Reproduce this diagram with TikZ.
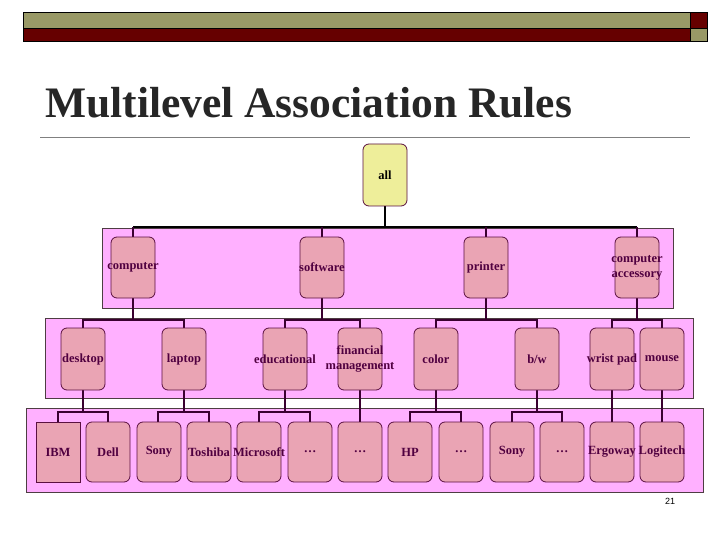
\documentclass[tikz,border=0pt]{standalone}
\usepackage{fontspec}
\setmainfont{Liberation Serif}
\newfontfamily\sansf{Liberation Sans}
\begin{document}
\begin{tikzpicture}[x=1pt,y=-1pt,
  band/.style={draw=black!80!magenta,fill=bandpink,line width=0.8pt},
  box/.style={draw=boxline,fill=boxpink,rounded corners=6pt,line width=0.8pt},
  lbl/.style={text=txtc,font=\fontsize{12.5}{15}\selectfont\bfseries,align=center,inner sep=0pt},
  conn/.style={draw=connc,line width=1.6pt}]
\definecolor{bandpink}{HTML}{FFB0FF}
\definecolor{boxpink}{HTML}{EAA4B4}
\definecolor{boxline}{HTML}{5A1040}
\definecolor{txtc}{HTML}{500040}
\definecolor{connc}{HTML}{3A0030}
\definecolor{olive}{HTML}{999966}
\definecolor{maroon}{HTML}{660000}
\definecolor{allyel}{HTML}{EEEE9A}
\useasboundingbox (0,0) rectangle (720,540);
\fill[white] (0,0) rectangle (720,540);
% top bar
\filldraw[fill=olive,draw=black] (23,12) rectangle (690,28);
\filldraw[fill=maroon,draw=black] (23,28) rectangle (690,41);
\filldraw[fill=maroon,draw=black] (690,12) rectangle (707,28);
\filldraw[fill=olive,draw=black] (690,28) rectangle (707,41);
\node[anchor=base west,inner sep=0pt,text=black!85,font=\fontsize{43.5}{44}\selectfont\bfseries] (title) at (45,118) {Multilevel Association Rules};
\draw[gray,line width=0.6pt] (40,137) -- (690,137);
% bands
\draw[band] (102,228) rectangle (673,308);
\draw[band] (45,318) rectangle (693,398);
\draw[band] (26,408) rectangle (703,492);
\newcommand{\rbox}[6]{\draw[box,#6] (#2,#3) rectangle (#4,#5); \coordinate (#1t) at ({(#2+#4)/2},#3); \coordinate (#1b) at ({(#2+#4)/2},#5); \coordinate (#1) at ({(#2+#4)/2},{(#3+#5)/2});}
% connectors
\draw[black,line width=2.2pt] (133,227) -- (637,227);
\draw[black,line width=1.8pt] (385,206) -- (385,227);
\foreach \x in {133,322,486,637} \draw[conn] (\x,227) -- (\x,237);
\foreach \x/\a/\b in {133/83/184,322/285/360,486/436/537,637/612/662}{
  \draw[conn] (\x,298) -- (\x,320);
  \draw[conn] (\a,328) |- (\b,320) -- (\b,328);}
\foreach \x/\a/\b in {83/58/108,184/158/209,285/259/310,436/410/461,537/512/562}{
  \draw[conn] (\x,390) -- (\x,412);
  \draw[conn] (\a,422) |- (\b,412) -- (\b,422);}
\foreach \x in {360,612,662} \draw[conn] (\x,390) -- (\x,422);
% boxes
\rbox{all}{363}{144}{407}{206}{fill=allyel}
\node[lbl,text=black] (tall) at (all) {all};
\rbox{comp}{111}{237}{155}{298}{}
\rbox{soft}{300}{237}{344}{298}{}
\rbox{prin}{464}{237}{508}{298}{}
\rbox{acc}{615}{237}{659}{298}{}
\node[lbl] (tcomp) at (comp) {computer};
\node[lbl] (tsoft) at (soft) {software};
\node[lbl] (tprin) at (prin) {printer};
\node[lbl] (tacc) at (acc) {computer\\accessory};
\rbox{desk}{61}{328}{105}{390}{}
\rbox{lap}{162}{328}{206}{390}{}
\rbox{edu}{263}{328}{307}{390}{}
\rbox{fin}{338}{328}{382}{390}{}
\rbox{col}{414}{328}{458}{390}{}
\rbox{bw}{515}{328}{559}{390}{}
\rbox{wp}{590}{328}{634}{390}{}
\rbox{mou}{640}{328}{684}{390}{}
\node[lbl] (tdesk) at (desk) {desktop};
\node[lbl] (tlap) at (lap) {laptop};
\node[lbl] (tedu) at (edu) {educational};
\node[lbl] (tfin) at (fin) {financial\\management};
\node[lbl] (tcol) at (col) {color};
\node[lbl] (tbw) at (bw) {b/w};
\node[lbl] (twp) at (wp) {wrist pad};
\node[lbl] (tmou) at (mou) {mouse};
\draw[box,rounded corners=0pt] (36,422) rectangle (80,482);
\coordinate (ibm) at (58,452);
\rbox{dell}{86}{422}{130}{482}{}
\rbox{sony}{137}{422}{181}{482}{}
\rbox{tosh}{187}{422}{231}{482}{}
\rbox{micr}{237}{422}{281}{482}{}
\rbox{da}{288}{422}{332}{482}{}
\rbox{db}{338}{422}{382}{482}{}
\rbox{hp}{388}{422}{432}{482}{}
\rbox{dc}{439}{422}{483}{482}{}
\rbox{sony2}{490}{422}{534}{482}{}
\rbox{dd}{540}{422}{584}{482}{}
\rbox{erg}{590}{422}{634}{482}{}
\rbox{logi}{640}{422}{684}{482}{}
\node[lbl] (tibm) at (ibm) {IBM};
\node[lbl] (tdell) at (dell) {Dell};
\node[lbl] (tsony) at (sony) {Sony};
\node[lbl] (ttosh) at (tosh) {Toshiba};
\node[lbl] (tmicr) at (micr) {Microsoft};
\node[lbl] (tda) at (da) {\dots};
\node[lbl] (tdb) at (db) {\dots};
\node[lbl] (thp) at (hp) {HP};
\node[lbl] (tdc) at (dc) {\dots};
\node[lbl] (tsony2) at (sony2) {Sony};
\node[lbl] (tdd) at (dd) {\dots};
\node[lbl] (terg) at (erg) {Ergoway};
\node[lbl] (tlogi) at (logi) {Logitech};
\node[font=\sansf\fontsize{9}{9}\selectfont] (pg) at (670,501) {21};
\end{tikzpicture}
\end{document}
